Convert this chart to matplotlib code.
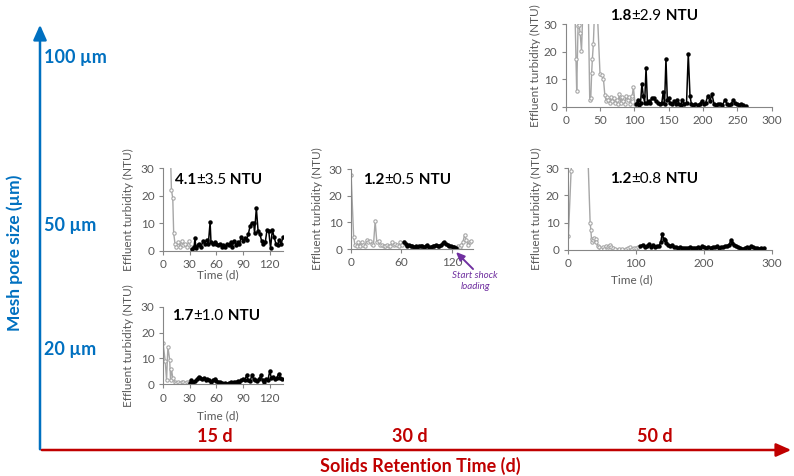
import matplotlib
matplotlib.use('Agg')
import matplotlib.pyplot as plt
from matplotlib.patches import FancyArrowPatch

W, H = 794, 476
plt.rcParams['font.family'] = ['Lato', 'DejaVu Sans']

# --- SRT 15 d, 50 um ---
g1_day = [8, 9.5, 11, 12, 13.5, 15, 17, 19, 21, 23, 25, 27, 29, 31, 33]
g1_val = [40, 22, 19, 6.5, 2.5, 1.5, 3, 1.5, 3.5, 2, 2.5, 1.5, 3.5, 1.5, 0.5]
b1_day = [33, 35, 36, 37, 39, 41, 43, 45, 47, 49, 51, 53, 54, 56, 58, 60, 62, 64, 66, 68,
          70, 72, 74, 76, 78, 80, 82, 84, 86, 88, 90, 92, 94, 96, 98, 100, 102, 103, 105, 107,
          109, 111, 113, 115, 117, 119, 121, 123, 125, 127, 129, 131, 133, 135]
b1_val = [0.5, 1.5, 4.5, 1, 2, 2.5, 1.5, 3.5, 2.5, 4, 2.5, 10.3, 3, 2.5, 3, 2.5, 2, 2.5, 1.5, 2,
          1.5, 2.5, 2, 3, 1.5, 3.5, 2, 3, 2.5, 5, 3.5, 4.5, 4, 6, 9, 10, 10, 6.5, 15.5, 7,
          6, 3.5, 2.5, 3, 7.5, 7, 1, 7.5, 5, 2.5, 2, 4, 2.5, 5]

# --- SRT 30 d, 50 um ---
g2a_day = [0.5, 3.5, 5, 7, 9, 11, 13, 15, 17, 19, 21, 23, 25, 27, 29, 31, 33, 35, 37, 39,
           41, 43, 45, 47, 49, 51, 53, 55, 57, 59, 61, 63]
g2a_val = [27.7, 4.6, 1.5, 1, 2.5, 1, 2.8, 1.5, 1, 3.5, 2.5, 3, 2, 1.5, 10.5, 2.5, 3, 1.5, 1.5, 1,
           1, 1.5, 1, 1, 2.5, 1.5, 2, 1.5, 1, 2.5, 1.5, 2.5]
b2_day = [63, 65, 67, 69, 71, 73, 75, 77, 79, 81, 83, 85, 87, 89, 91, 93, 95, 97, 99, 101,
          103, 105, 107, 109, 111, 113, 115, 117, 119, 121, 123, 125]
b2_val = [2.5, 1.8, 1.2, 1.5, 1.0, 1.2, 0.8, 1.0, 0.9, 1.3, 1.0, 1.2, 0.8, 1.0, 1.4, 0.9, 0.8, 1.2, 1.0, 1.6,
          1.2, 1.0, 1.5, 2.2, 2.5, 1.8, 1.4, 1.0, 1.2, 0.9, 0.8, 0.5]
g2b_day = [125, 127, 129, 131, 133, 135, 137, 139, 141, 143]
g2b_val = [0.5, 1, 0.8, 1.5, 2.5, 5.2, 3.5, 1.5, 2.8, 3]

# --- SRT 50 d, 50 um ---
g3_day = [1, 5, 8, 29, 33, 34, 35, 36, 37, 39, 41, 42, 44, 46, 49, 52, 54, 56, 59, 61,
          62, 64, 66, 70, 75, 80, 85, 88, 91, 94, 97, 100, 103]
g3_val = [5, 29, 40, 40, 10, 7.5, 4, 3, 3.5, 4.5, 4, 3, 1.5, 1, 0.5, 1, 0.5, 1.5, 1, 1.5,
          2, 1, 0.7, 0.5, 0.3, 0.3, 0.3, 0.8, 1, 0.5, 0.8, 0.7, 1]
b3_day = [107, 110, 113, 116, 119, 122, 125, 128, 131, 134, 137, 139, 141, 143, 145, 147, 150, 153, 156, 159,
          162, 165, 168, 171, 174, 177, 180, 183, 186, 189, 192, 195, 198, 201, 204, 207, 210, 213, 216, 219,
          222, 225, 228, 231, 234, 237, 240, 242, 245, 248, 251, 254, 257, 260, 263, 266, 269, 272, 275, 278,
          281, 284, 288]
b3_val = [1.5, 2.0, 1.2, 1.6, 2.2, 1.0, 2.0, 1.2, 1.5, 1.4, 3.0, 6.0, 4.0, 3.5, 2.5, 2.0, 1.5, 1.8, 1.0, 1.2,
          0.8, 1.0, 0.7, 0.9, 0.6, 0.8, 1.0, 0.7, 0.9, 0.8, 1.0, 0.7, 1.5, 1.0, 0.8, 1.1, 0.9, 1.2, 1.0, 1.3,
          0.8, 1.2, 1.0, 1.5, 1.6, 1.8, 3.5, 2.5, 2.0, 1.6, 1.2, 0.9, 0.5, 0.8, 1.0, 0.6, 1.5, 1.2, 0.6, 0.8,
          0.5, 0.7, 0.6]

# --- SRT 15 d, 20 um ---
g4_day = [0, 2.5, 4, 5.5, 7.5, 8.5, 9.5, 11, 13, 15, 17, 19, 21, 23, 25, 27, 29]
g4_val = [16, 9, 1.5, 14.5, 9.5, 1.5, 6, 2.5, 1, 0.5, 1, 0.5, 1, 0.8, 0.5, 1, 0.8]
b4_day = [30, 32, 34, 36, 38, 40, 42, 44, 46, 48, 50, 52, 54, 56, 58, 60, 62, 64, 66, 68,
          70, 72, 74, 76, 78, 80, 82, 84, 86, 88, 90, 92, 94, 96, 98, 100, 102, 104, 106, 108,
          110, 112, 114, 116, 118, 120, 122, 124, 126, 128, 130, 132, 134]
b4_val = [0.5, 1.5, 1, 1.2, 2, 3, 2.5, 2, 2.5, 1.5, 2, 1.8, 1, 1.5, 2, 1.2, 0.8, 1, 0.5, 0.3,
          0.5, 0.3, 0.5, 0.8, 0.4, 1, 0.7, 1.2, 0.8, 1.5, 2, 1.5, 3.5, 1.5, 1.2, 3.5, 2, 1.5, 1.2, 2,
          3.5, 1.5, 1, 2, 1.5, 5, 2.5, 3, 2, 2.5, 4, 2.5, 2]

# --- SRT 50 d, 100 um ---
g5_day = [13.5, 15, 16, 18, 19.5, 21, 23, 25, 33, 35, 36.5, 37.8, 38.8, 40.3, 42, 46, 50, 53, 55, 57,
          59, 60, 62, 64, 66, 68, 70, 72, 74, 76, 78, 80, 82, 84, 86, 88, 90, 92, 94, 96,
          97, 98.5, 101]
g5_val = [35, 17.2, 5.8, 29.5, 29.8, 27, 20.3, 35, 35, 2.5, 3, 12.3, 17.2, 23, 35, 35, 11.8, 11.5, 10, 4.2,
          2, 3.5, 2.5, 1.5, 3.5, 2, 3, 1.5, 2.5, 1, 4.5, 1.5, 3.5, 2, 1, 4, 2.5, 3.5, 1, 3,
          4, 7.3, 1]
b5_day = [103, 105, 107, 109, 111, 113, 115, 117, 119, 121, 123, 125, 128, 131, 134, 137, 140, 142, 144, 146,
          148, 150, 152, 155, 158, 160, 162, 165, 168, 170, 173, 176, 178.5, 181, 183, 186, 189, 192, 195, 198,
          201, 204, 207, 210, 213, 216, 219, 222, 225, 228, 232, 235, 238, 241, 244, 246, 249, 252, 255, 258,
          262]
b5_val = [1, 2.5, 0.5, 1.5, 8.3, 4, 1.5, 14.2, 1.5, 2, 1.5, 3, 3.2, 2, 1.5, 1, 1.5, 5.2, 1, 17.5,
          2.5, 3, 1.5, 1, 2, 1, 2.5, 1, 0.5, 2.5, 1, 1.5, 19.3, 4, 1, 0.5, 1, 0.5, 1, 2,
          1, 1.5, 4, 2, 4.5, 1, 0.5, 1, 1, 0.5, 2.5, 1, 0.5, 1, 2.5, 1.5, 1, 0.5, 1, 0.5,
          0.2]

srt_labels = ['15 d', '30 d', '50 d']
pore_labels = ['100 µm', '50 µm', '20 µm']

GRAY = '#A6A6A6'
AXC = '#868686'
TXT = '#595959'
BLUE = '#0070C0'
RED = '#C00000'
FS = 8.5

fig = plt.figure(figsize=(W / 100, H / 100), dpi=100)


def fx(x):
    return x / W


def fy(y):
    return 1 - y / H


def panel(l, t, r, b, xmax, xstep, grays, black, stat, sxy, ylab_dx, xlab_xy=None):
    ax = fig.add_axes([fx(l), fy(b), (r - l) / W, (b - t) / H])
    for d, v in grays:
        ax.plot(d, v, color=GRAY, lw=1, marker='o', ms=2.4, mfc='white', mec=GRAY, mew=0.8)
    ax.plot(black[0], black[1], color='black', lw=1.1, marker='o', ms=2.2)
    ax.set_xlim(0, xmax)
    ax.set_ylim(0, 30)
    ax.set_xticks(range(0, xmax + 1, xstep))
    ax.set_yticks([0, 10, 20, 30])
    for s in ['top', 'right']:
        ax.spines[s].set_visible(False)
    for s in ['left', 'bottom']:
        ax.spines[s].set_color(AXC)
        ax.spines[s].set_linewidth(0.8)
    ax.tick_params(length=3, width=0.8, color=AXC, labelcolor=TXT, labelsize=FS, pad=3)
    ax.set_ylabel('Effluent turbidity (NTU)', fontsize=FS, color=TXT)
    ax.yaxis.set_label_coords(ylab_dx / (r - l), 0.5)
    if xlab_xy:
        ax.set_xlabel('Time (d)', fontsize=FS, color=TXT, va='center')
        ax.xaxis.set_label_coords(fx(xlab_xy[0]), fy(xlab_xy[1]), transform=fig.transFigure)
    t1 = ax.text(fx(sxy[0]), fy(sxy[1]), stat[0], transform=fig.transFigure,
                 fontsize=11, fontweight='bold', va='center', ha='left')
    t2 = ax.annotate(stat[1], xy=(1, 0), xycoords=t1, va='bottom', ha='left', fontsize=11)
    ax.annotate(stat[2], xy=(1, 0), xycoords=t2, va='bottom', ha='left', fontsize=11, fontweight='bold')
    return ax


panel(163, 168, 283, 250.7, 135, 30, [(g1_day, g1_val)], (b1_day, b1_val),
      ('4.1', '±3.5', ' NTU'), (175, 180), -29, (218, 275))
ax2 = panel(350.7, 169, 473, 249, 145, 60, [(g2a_day, g2a_val), (g2b_day, g2b_val)], (b2_day, b2_val),
            ('1.2', '±0.5', ' NTU'), (363, 180), -28)
panel(567.7, 168, 771.7, 250, 300, 100, [(g3_day, g3_val)], (b3_day, b3_val),
      ('1.2', '±0.8', ' NTU'), (610, 179), -26, (632, 280))
panel(163, 306.7, 283, 384.3, 135, 30, [(g4_day, g4_val)], (b4_day, b4_val),
      ('1.7', '±1.0', ' NTU'), (172, 316), -29, (218, 416))
panel(565.7, 24.3, 771.7, 106.7, 300, 50, [(g5_day, g5_val)], (b5_day, b5_val),
      ('1.8', '±2.9', ' NTU'), (610, 16), -25)

# shock loading note on the 30 d panel
ax2.annotate('', xy=(fx(454), fy(250)), xycoords='figure fraction',
             xytext=(fx(475), fy(271)), textcoords='figure fraction',
             arrowprops=dict(arrowstyle='-|>,head_length=0.5,head_width=0.22', color='#7030A0', lw=1.4))
fig.text(fx(475), fy(281), 'Start shock\nloading', color='#7030A0', fontsize=7, style='italic',
         ha='center', va='center', linespacing=1.3)

# big axes
fig.add_artist(FancyArrowPatch((fx(40), fy(452)), (fx(40), fy(22)), transform=fig.transFigure,
                               arrowstyle='-|>,head_length=9,head_width=4', color=BLUE, lw=1.8))
fig.add_artist(FancyArrowPatch((fx(39), fy(450)), (fx(794), fy(450)), transform=fig.transFigure,
                               arrowstyle='-|>,head_length=9,head_width=4', color=RED, lw=1.8))

for lab, y in zip(pore_labels, [58, 225, 350]):
    fig.text(fx(44), fy(y), lab, color=BLUE, fontsize=13, fontweight='bold', ha='left', va='center')
fig.text(fx(15), fy(253), 'Mesh pore size (µm)', color=BLUE, fontsize=12.5, fontweight='bold',
         rotation=90, ha='center', va='center')

for lab, x in zip(srt_labels, [215, 410, 655]):
    fig.text(fx(x), fy(437), lab, color=RED, fontsize=13, fontweight='bold', ha='center', va='center')
fig.text(fx(420), fy(466), 'Solids Retention Time (d)', color=RED, fontsize=13, fontweight='bold',
         ha='center', va='center')

fig.savefig('out.png', dpi=100)
